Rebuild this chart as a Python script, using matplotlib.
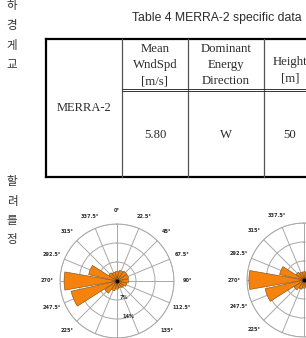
"""Page crop: Table 4 (MERRA-2 specific data) with the two wind roses below it."""

import numpy as np
import matplotlib
matplotlib.use("Agg")
import matplotlib.pyplot as plt

# table content
title = "Table 4 MERRA-2 specific data"
row_label = "MERRA-2"
headers = ["Mean\nWndSpd\n[m/s]", "Dominant\nEnergy\nDirection", "Height\n[m]"]
values = ["5.80", "W", "50"]

# Korean text fragments from the neighbouring column
side_top = ["하", "경", "게", "교"]
side_bottom = ["할", "려", "를", "정"]

# wind rose data (frequency %, 16 sectors)
directions = np.arange(0, 360, 22.5)
rose1_freq = [3.5, 4.0, 4.4, 4.4, 4.2, 3.7, 3.0, 2.6, 3.0, 3.7, 5.5, 17.3, 19.5, 10.7, 3.7, 3.3]
rose2_freq = [3.0, 3.5, 4.0, 4.0, 3.5, 3.0, 2.5, 2.5, 3.0, 3.5, 4.5, 14.7, 20.3, 9.2, 3.5, 3.0]
ring_levels = [7, 14, 21]
ring_labels = ["7%", "14%", ""]
# direction labels that fall inside the page for each rose
rose1_shown = [0, 22.5, 45, 67.5, 90, 112.5, 135, 225, 247.5, 270, 292.5, 315, 337.5]
rose2_shown = [225, 247.5, 270, 292.5, 315, 337.5]

W, H = 306, 338
fig = plt.figure(figsize=(W / 100, H / 100), dpi=100)
page = fig.add_axes([0, 0, 1, 1])
page.set_xlim(0, W)
page.set_ylim(H, 0)
page.axis("off")

ink = "#2b2b2b"
serif = "Liberation Serif"
cjk = ["Noto Sans CJK KR", "DejaVu Sans"]

# side column text
for i, ch in enumerate(side_top):
    page.text(12, 6 + i * 19.7, ch, ha="center", va="center", fontsize=8.3,
              family=cjk, color="#333")
for i, ch in enumerate(side_bottom):
    page.text(12, 182 + i * 19.3, ch, ha="center", va="center", fontsize=8.3,
              family=cjk, color="#333")

# title
page.text(132, 18, title, ha="left", va="center", fontsize=8.8,
          family="Liberation Sans", color=ink)

# table frame
top, bot, left = 39, 177, 46
cols = [122, 188, 264]
page.plot([left, W + 5], [top, top], color="black", lw=1.6)
page.plot([left, W + 5], [bot, bot], color="black", lw=1.6)
page.plot([left, left], [top, bot], color="black", lw=1.6)
for x in cols:
    page.plot([x, x], [top, bot], color="#555", lw=0.9)
for y in (88.5, 91.2):
    page.plot([cols[0], W + 5], [y, y], color="#333", lw=0.7)

page.text((left + cols[0]) / 2, 108, row_label, ha="center", va="center",
          fontsize=9, family=serif, color=ink)
centers = [155, 226, 290]
header_y = [65, 65, 70]
for cx, hy, h, v in zip(centers, header_y, headers, values):
    page.text(cx, hy, h, ha="center", va="center", fontsize=9.2, family=serif,
              color=ink, linespacing=1.45)
    page.text(cx, 135, v, ha="center", va="center", fontsize=9.2, family=serif,
              color=ink)


def wind_rose(cx, cy, freq, shown, rlabels, R=57):
    ax = fig.add_axes([(cx - R) / W, (H - cy - R) / H, 2 * R / W, 2 * R / H],
                      projection="polar")
    ax.set_theta_zero_location("N")
    ax.set_theta_direction(-1)
    theta = np.deg2rad(directions)
    ax.bar(theta, freq, width=np.deg2rad(22.5) * 0.88, bottom=0,
           color="#f5820d", edgecolor="#7a4a10", lw=0.4, zorder=3)
    ax.plot([0], [0], "o", color="black", ms=1.8, zorder=4)
    ax.set_ylim(0, ring_levels[-1])
    ax.set_rgrids(ring_levels, rlabels, angle=172, fontsize=3.6,
                  color=ink, fontweight="bold")
    labels = [f"{d:g}°" if d in shown else "" for d in directions]
    ax.set_thetagrids(directions, labels, fontsize=3.6, color=ink,
                      fontweight="bold")
    ax.tick_params(axis="x", pad=2.5, length=0)
    ax.grid(color="#a8a8a8", lw=0.7)
    ax.spines["polar"].set_color("#a8a8a8")
    ax.spines["polar"].set_linewidth(0.7)
    ax.set_facecolor("white")
    return ax


wind_rose(117, 281, rose1_freq, rose1_shown, ring_labels)
wind_rose(304, 280, rose2_freq, rose2_shown, [""] * len(ring_levels))

fig.savefig("out.png", dpi=100)
